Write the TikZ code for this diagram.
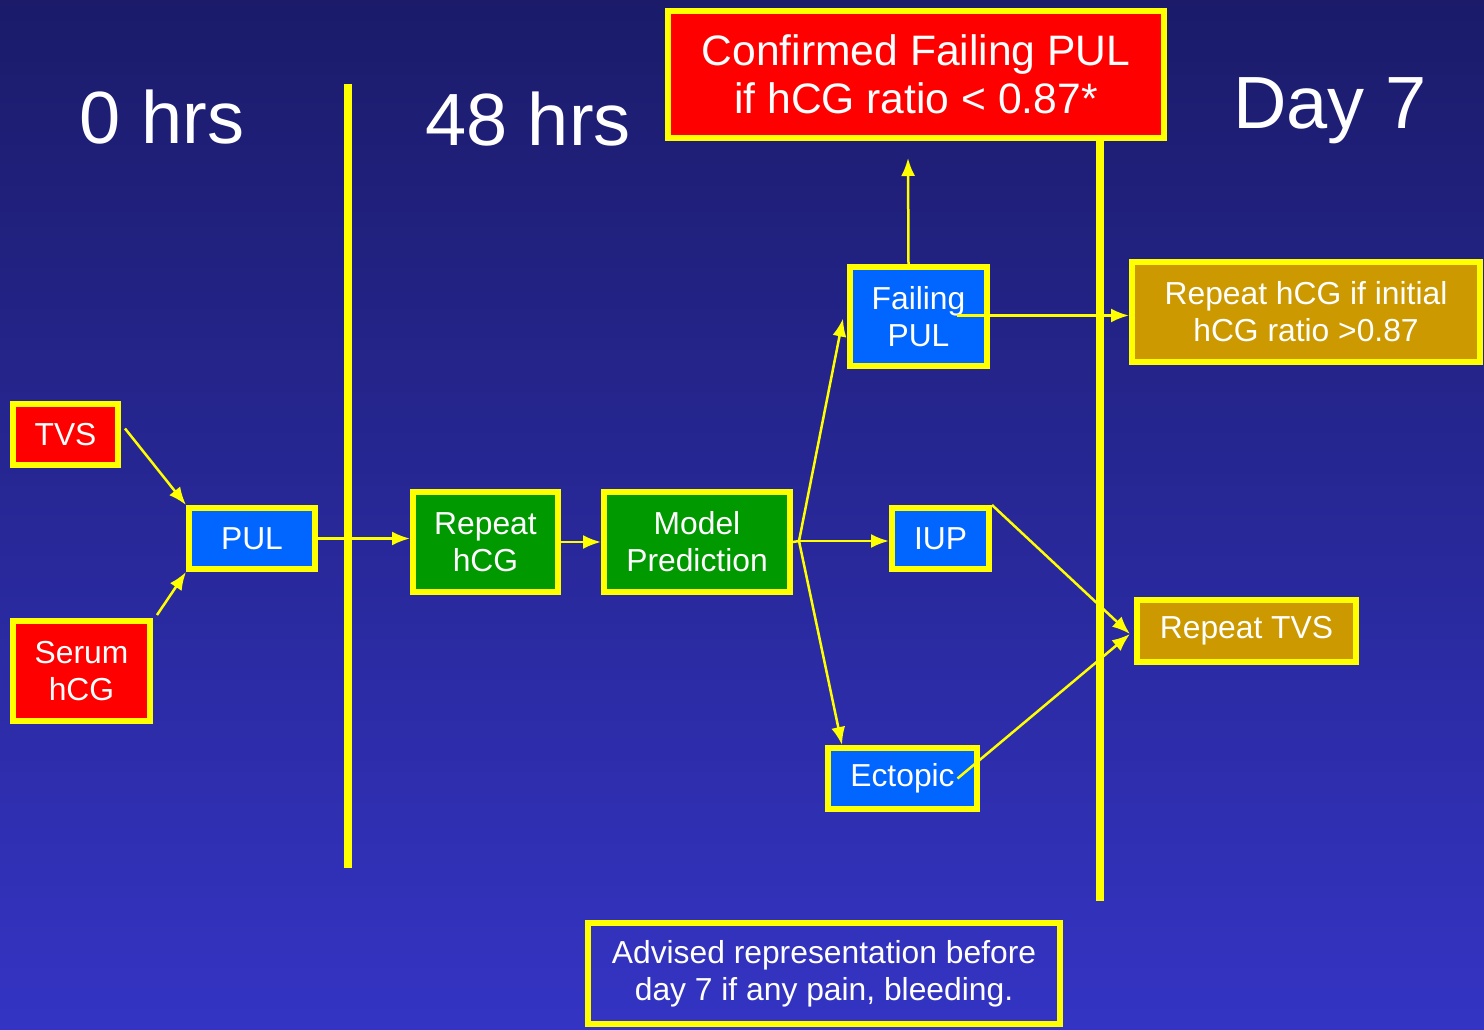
\documentclass[tikz,border=0pt]{standalone}
\usepackage{fontspec}
\setmainfont{Liberation Sans}
\usetikzlibrary{arrows.meta,calc}
\definecolor{bgtop}{HTML}{1B1B6A}
\definecolor{bgbot}{HTML}{3434C4}
\definecolor{ylw}{HTML}{FFFF00}
\definecolor{redbox}{HTML}{FF0000}
\definecolor{bluebox}{HTML}{0066FF}
\definecolor{greenbox}{HTML}{009900}
\definecolor{goldbox}{HTML}{CC9900}
\tikzset{
  box/.style={draw=ylw, line width=3pt, text=white, align=center, inner sep=0pt,
    font=\fontsize{15.9}{18.5}\selectfont},
  redb/.style={box, fill=redbox},
  blueb/.style={box, fill=bluebox},
  greenb/.style={box, fill=greenbox},
  goldb/.style={box, fill=goldbox},
  conn/.style={draw=ylw, line width=1.25pt, -{Latex[length=9pt,width=7pt]}},
  timeline/.style={draw=ylw, line width=4pt},
  heading/.style={text=white, anchor=base, inner sep=0pt, font=\fontsize{37}{44}\selectfont}
}
\begin{document}
\begin{tikzpicture}[x=0.5pt, y=-0.5pt]
  % background
  \useasboundingbox (0,0) rectangle (1484,1029);
  \shade[top color=bgtop, bottom color=bgbot] (0,0) rectangle (1484,1029);

  % time headings
  \node[heading] (h0) at (162,143) {0 hrs};
  \node[heading] (h48) at (528,145) {48 hrs};
  \node[heading] (h7) at (1330,128) {Day 7};

  % boxes
  \node[redb, minimum width=52.5pt, minimum height=30.5pt] (tvs) at (65.5,434.5) {TVS};
  \node[redb, minimum width=68.5pt, minimum height=50pt] (serum) at (81.5,671) {Serum\\hCG};
  \node[blueb, minimum width=63pt, minimum height=30.5pt] (pul) at (252,538.5) {PUL};
  \node[greenb, minimum width=72.5pt, minimum height=50pt] (rhcg) at (485.5,542) {Repeat\\hCG};
  \node[greenb, minimum width=93pt, minimum height=50pt] (model) at (697,542) {Model\\Prediction};
  \node[blueb, minimum width=68.5pt, minimum height=49.5pt] (fail) at (918.5,316.5) {Failing\\PUL};
  \node[blueb, minimum width=48.5pt, minimum height=30.5pt] (iup) at (940.5,538.5) {IUP};
  \node[blueb, minimum width=74.5pt, minimum height=30.5pt] (ect) at (902.5,778.5) {Ectopic};
  \node[redb, minimum width=248pt, minimum height=63.5pt,
        font=\fontsize{21.3}{24}\selectfont] (conf) at (916,74.5)
        {Confirmed Failing PUL\\if hCG ratio < 0.87*};
  \node[goldb, minimum width=174pt, minimum height=50pt] (rep1) at (1306,312)
        {Repeat hCG if initial\\hCG ratio >0.87};
  \node[goldb, minimum width=109.5pt, minimum height=31pt] (rtvs) at (1246.5,631) {Repeat TVS};
  \node[box, minimum width=236pt, minimum height=50.5pt] (adv) at (824,973.5)
        {Advised representation before\\day 7 if any pain, bleeding.};

  % time dividers
  \draw[timeline] (348,84) -- (348,868);
  \draw[timeline] ($(conf.south)+(184,0)$) -- ($(conf.south)+(184,760)$);

  % connectors
  \coordinate (fan) at ($(model.east)+(6,-1)$);
  \coordinate (confin) at ($(conf.south)+(-8,17)$);
  \coordinate (failout) at ($(fail.center)+(38,-1)$);
  \coordinate (tvsin) at ($(rtvs.west)+(-4,3)$);
  \draw[conn] ($(tvs.east)+(4,-6)$) -- (pul.north west);
  \draw[conn] ($(serum.north east)+(4,-3)$) -- (pul.south west);
  \draw[conn] (pul.east) -- (pul.east -| rhcg.west);
  \draw[conn] (rhcg.east) -- (model.west);
  \draw[draw=ylw, line width=1.25pt] (model.east) -- (fan);
  \draw[conn] (fan) -- ($(fail.west)+(-4,2)$);
  \draw[conn] (fan) -- (fan -| iup.west);
  \draw[conn] (fan) -- ($(ect.north west)+(17,0)$);
  \draw[conn] ($(fail.north)+(-10,0)$) -- (confin);
  \draw[conn] (failout) -- (failout -| rep1.west);
  \draw[conn] (iup.north east) -- (tvsin);
  \draw[conn] ($(ect.center)+(55,0)$) -- (tvsin);
\end{tikzpicture}
\end{document}
